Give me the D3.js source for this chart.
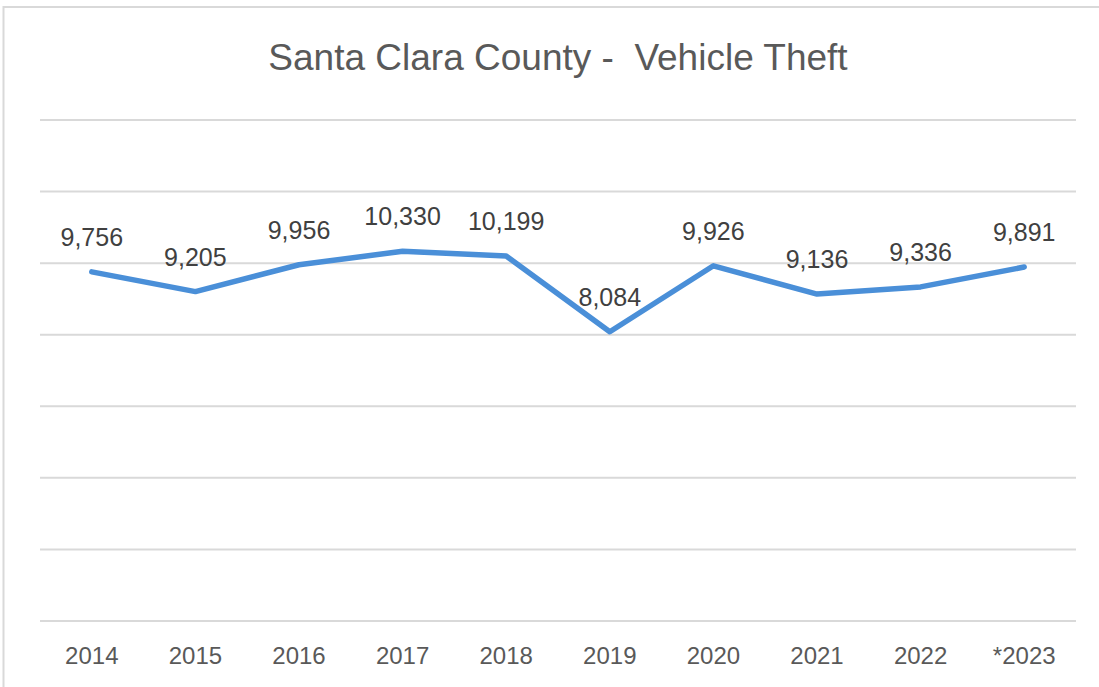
<!DOCTYPE html>
<html>
<head>
<meta charset="utf-8">
<script src="https://cdn.jsdelivr.net/npm/d3@7"></script>
<style>
  html, body { margin: 0; padding: 0; background: #fff; }
  svg { display: block; }
</style>
</head>
<body>
<div id="chart"></div>
<script>
// chart data
var years = ["2014", "2015", "2016", "2017", "2018", "2019", "2020", "2021", "2022", "*2023"];
var thefts = [9756, 9205, 9956, 10330, 10199, 8084, 9926, 9136, 9336, 9891];
var gridValues = [0, 2000, 4000, 6000, 8000, 10000, 12000, 14000];
var chartTitle = "Santa Clara County -  Vehicle Theft";

var width = 1099, height = 687;
var margin = { left: 40, right: 23, top: 120, bottom: 66 };

var svg = d3.select("#chart").append("svg")
  .attr("width", width)
  .attr("height", height);

// outer chart frame (cropped on right / bottom)
svg.append("rect")
  .attr("x", 3.5)
  .attr("y", 7)
  .attr("width", width + 10)
  .attr("height", height + 10)
  .attr("fill", "none")
  .attr("stroke", "#d9d9d9")
  .attr("stroke-width", 2);

var xScale = d3.scaleBand()
  .domain(years)
  .range([margin.left, width - margin.right]);

var yScale = d3.scaleLinear()
  .domain([0, 14000])
  .range([height - margin.bottom, margin.top]);

// gridlines
svg.append("g")
  .selectAll("line")
  .data(gridValues)
  .enter()
  .append("line")
  .attr("x1", margin.left)
  .attr("x2", width - margin.right)
  .attr("y1", d => yScale(d))
  .attr("y2", d => yScale(d))
  .attr("stroke", "#d9d9d9")
  .attr("stroke-width", 2);

// x axis labels
var xAxis = d3.axisBottom(xScale).tickSize(0).tickPadding(0);
var gx = svg.append("g")
  .attr("transform", "translate(0," + (height - margin.bottom) + ")")
  .call(xAxis);
gx.select(".domain").remove();
gx.selectAll("text")
  .attr("y", 43)
  .attr("dy", null)
  .attr("font-family", "'Liberation Sans', Arial, sans-serif")
  .attr("font-size", 24)
  .attr("fill", "#595959");

// line
var line = d3.line()
  .x((d, i) => xScale(years[i]) + xScale.bandwidth() / 2)
  .y(d => yScale(d));

svg.append("path")
  .datum(thefts)
  .attr("d", line)
  .attr("fill", "none")
  .attr("stroke", "#4a8fd8")
  .attr("stroke-width", 5.5)
  .attr("stroke-linejoin", "round")
  .attr("stroke-linecap", "round");

// data labels
svg.append("g")
  .selectAll("text")
  .data(thefts)
  .enter()
  .append("text")
  .attr("x", (d, i) => xScale(years[i]) + xScale.bandwidth() / 2)
  .attr("y", d => yScale(d) - 26)
  .attr("text-anchor", "middle")
  .attr("font-family", "'Liberation Sans', Arial, sans-serif")
  .attr("font-size", 25)
  .attr("fill", "#404040")
  .text(d => d3.format(",")(d));

// title
svg.append("text")
  .attr("x", 558)
  .attr("y", 70)
  .attr("text-anchor", "middle")
  .attr("font-family", "'Liberation Sans', Arial, sans-serif")
  .attr("font-size", 37)
  .attr("fill", "#595959")
  .style("white-space", "pre")
  .text(chartTitle);
</script>
</body>
</html>
